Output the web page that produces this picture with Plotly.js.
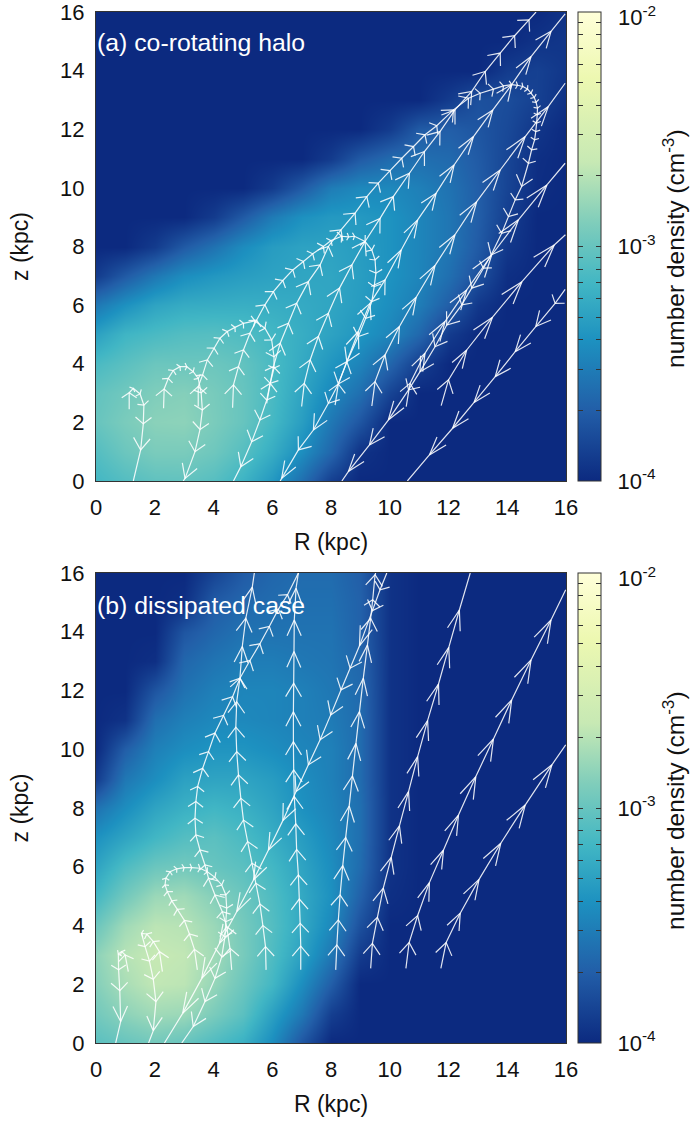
<!DOCTYPE html>
<html><head><meta charset="utf-8">
<script src="https://cdn.plot.ly/plotly-3.0.1.min.js"></script>
<style>html,body{margin:0;padding:0;background:#fff}</style></head>
<body><div id="chart" style="width:691px;height:1125px"></div>
<script>
const gridR=[0,1,2,3,4,5,6,7,8,9,10,11,12,13,14,15,16];
const gridZ=[0,1,2,3,4,5,6,7,8,9,10,11,12,13,14,15,16];
// log10 of number density, rows z=0..16, columns R=0..16
const densityA=[
[-3.15,-3.08,-3.03,-3.02,-3.07,-3.18,-3.35,-3.6,-3.88,-4,-4,-4,-4,-4,-4,-4,-4],
[-3.08,-2.98,-2.92,-2.92,-2.97,-3.07,-3.22,-3.42,-3.65,-3.95,-4,-4,-4,-4,-4,-4,-4],
[-3.0,-2.92,-2.86,-2.85,-2.92,-3.0,-3.14,-3.32,-3.55,-3.75,-4,-4,-4,-4,-4,-4,-4],
[-3.02,-2.96,-2.9,-2.88,-2.93,-3.0,-3.12,-3.28,-3.45,-3.6,-3.85,-4,-4,-4,-4,-4,-4],
[-3.12,-3.05,-2.98,-2.98,-2.98,-3.02,-3.12,-3.24,-3.37,-3.48,-3.66,-3.88,-4,-4,-4,-4,-4],
[-3.3,-3.17,-3.12,-3.08,-3.07,-3.1,-3.15,-3.22,-3.29,-3.37,-3.47,-3.64,-3.9,-4,-4,-4,-4],
[-3.55,-3.4,-3.28,-3.23,-3.22,-3.21,-3.22,-3.24,-3.27,-3.33,-3.42,-3.52,-3.7,-3.92,-4,-4,-4],
[-3.9,-3.72,-3.55,-3.42,-3.36,-3.32,-3.29,-3.27,-3.27,-3.32,-3.39,-3.47,-3.6,-3.78,-3.97,-4,-4],
[-4,-4,-3.9,-3.72,-3.58,-3.43,-3.33,-3.29,-3.29,-3.33,-3.39,-3.47,-3.56,-3.72,-3.92,-4,-4],
[-4,-4,-4,-4,-3.9,-3.72,-3.53,-3.4,-3.35,-3.35,-3.39,-3.47,-3.56,-3.7,-3.88,-4,-4],
[-4,-4,-4,-4,-4,-4,-3.9,-3.72,-3.52,-3.45,-3.45,-3.5,-3.58,-3.7,-3.85,-3.98,-4],
[-4,-4,-4,-4,-4,-4,-4,-4,-3.9,-3.72,-3.62,-3.6,-3.63,-3.72,-3.84,-3.97,-4],
[-4,-4,-4,-4,-4,-4,-4,-4,-4,-4,-3.9,-3.72,-3.7,-3.75,-3.82,-3.93,-4],
[-4,-4,-4,-4,-4,-4,-4,-4,-4,-4,-4,-4,-3.9,-3.78,-3.8,-3.87,-3.96],
[-4,-4,-4,-4,-4,-4,-4,-4,-4,-4,-4,-4,-4,-4,-3.9,-3.87,-3.93],
[-4,-4,-4,-4,-4,-4,-4,-4,-4,-4,-4,-4,-4,-4,-4,-3.95,-3.93],
[-4,-4,-4,-4,-4,-4,-4,-4,-4,-4,-4,-4,-4,-4,-4,-4,-3.95]];
const densityB=[
[-3.05,-3.0,-2.95,-3.0,-3.1,-3.2,-3.42,-3.75,-4,-4,-4,-4,-4,-4,-4,-4,-4],
[-2.95,-2.85,-2.78,-2.8,-2.92,-3.05,-3.3,-3.55,-3.88,-4,-4,-4,-4,-4,-4,-4,-4],
[-2.88,-2.75,-2.66,-2.68,-2.82,-2.98,-3.15,-3.42,-3.7,-4,-4,-4,-4,-4,-4,-4,-4],
[-2.85,-2.7,-2.64,-2.66,-2.78,-2.93,-3.1,-3.3,-3.55,-3.9,-4,-4,-4,-4,-4,-4,-4],
[-2.98,-2.78,-2.68,-2.7,-2.8,-2.94,-3.08,-3.25,-3.45,-3.78,-4,-4,-4,-4,-4,-4,-4],
[-3.15,-2.95,-2.8,-2.78,-2.88,-2.98,-3.1,-3.25,-3.4,-3.68,-3.97,-4,-4,-4,-4,-4,-4],
[-3.28,-3.1,-2.98,-2.95,-3.0,-3.05,-3.15,-3.28,-3.42,-3.62,-3.95,-4,-4,-4,-4,-4,-4],
[-3.4,-3.28,-3.16,-3.08,-3.05,-3.12,-3.22,-3.33,-3.45,-3.6,-3.95,-4,-4,-4,-4,-4,-4],
[-3.58,-3.42,-3.28,-3.2,-3.16,-3.2,-3.28,-3.4,-3.48,-3.6,-3.95,-4,-4,-4,-4,-4,-4],
[-3.9,-3.55,-3.42,-3.3,-3.28,-3.28,-3.33,-3.42,-3.5,-3.62,-3.95,-4,-4,-4,-4,-4,-4],
[-4,-3.7,-3.5,-3.42,-3.38,-3.38,-3.42,-3.47,-3.5,-3.62,-3.95,-4,-4,-4,-4,-4,-4],
[-4,-3.95,-3.6,-3.5,-3.45,-3.45,-3.47,-3.5,-3.53,-3.62,-3.95,-4,-4,-4,-4,-4,-4],
[-4,-4,-3.75,-3.58,-3.5,-3.47,-3.47,-3.5,-3.55,-3.63,-3.95,-4,-4,-4,-4,-4,-4],
[-4,-4,-3.97,-3.65,-3.57,-3.52,-3.52,-3.55,-3.57,-3.65,-3.95,-4,-4,-4,-4,-4,-4],
[-4,-4,-4,-3.75,-3.65,-3.58,-3.58,-3.58,-3.58,-3.68,-3.95,-4,-4,-4,-4,-4,-4],
[-4,-4,-4,-3.97,-3.72,-3.65,-3.62,-3.6,-3.6,-3.68,-3.95,-4,-4,-4,-4,-4,-4],
[-4,-4,-4,-4,-3.85,-3.72,-3.65,-3.62,-3.62,-3.7,-3.95,-4,-4,-4,-4,-4,-4]];

// Panel (a) flow lines
const a1R=[1.13,1.13,1.27,1.5,1.63,1.61,1.52,1.27];
const a1z=[2.45,3.01,3.16,2.97,2.59,1.95,1.06,0];
const a2R=[2.3,2.32,2.46,2.63,2.86,3.09,3.31,3.48,3.58,3.62,3.54,3.37,3.03,2.97];
const a2z=[2.48,3.14,3.5,3.77,3.9,3.9,3.73,3.5,3.01,2.42,1.76,1,0.09,0];
const a3R=[3.48,3.48,3.63,3.79,4.02,4.22,4.47,4.73,5.02,5.41,5.75,5.98,6.06,6.06,5.93,5.81,5.58,5.3,4.93,4.68];
const a3z=[2.54,3.22,3.62,4.13,4.53,4.87,5.1,5.24,5.38,5.46,5.21,4.81,4.24,3.85,3.33,2.76,2.08,1.34,0.49,0];
const a4R=[4.65,4.68,4.85,5.02,5.24,5.47,5.75,6.04,6.36,6.7,7.06,7.38,7.74,8.0,8.36,8.6,8.8,9.16,9.39,9.5,9.53,9.47,9.39,9.18,8.93,8.54,8.25,7.91,7.4,6.89,6.32,6.27];
const a4z=[2.5,3.28,3.9,4.47,5.04,5.49,6.01,6.46,6.84,7.2,7.49,7.75,8,8.2,8.35,8.33,8.35,8.17,7.88,7.54,7.09,6.63,6.12,5.55,4.93,4.07,3.31,2.65,1.74,1.06,0.09,0];
const a5R=[5.81,5.93,6.04,6.27,6.55,6.83,7.23,7.63,7.91,8.34,8.82,9.22,9.61,10.01,10.41,10.81,11.2,11.6,12.17,12.68,13.08,13.53,13.87,14.15,14.35,14.53,14.69,14.81,14.92,14.98,15.03,15.02,15,14.97,14.93,14.83,14.72,14.49,14.27,14.04,13.81,13.45,13.19,12.79,12.45,11.94,11.54,11.03,10.64,9.95,9.31,8.59,8.37];
const a5z=[2.65,3.33,3.9,4.7,5.38,6.06,6.8,7.37,8,8.57,9.14,9.7,10.16,10.59,11.01,11.41,11.81,12.12,12.66,13.06,13.23,13.37,13.48,13.52,13.5,13.46,13.37,13.23,13.08,12.92,12.72,12.49,12.21,11.92,11.64,11.3,10.84,10.05,9.59,9.02,8.45,7.71,7.26,6.58,6.01,5.32,4.58,3.73,3.11,2.08,1.23,0.32,0];
const a6R=[7,7.09,7.29,7.57,7.91,8.29,8.71,9.16,9.67,10.12,10.67,11.18,11.71,12.22,12.79,13.25,13.76,14.25,14.74,14.98];
const a6z=[2.54,3.33,4.13,4.93,5.72,6.58,7.37,8.17,8.96,9.7,10.5,11.24,11.92,12.66,13.29,13.97,14.6,15.19,15.73,16];
const a7R=[8.14,8.25,8.54,8.93,9.33,9.84,10.39,10.95,11.58,12.19,12.85,13.51,14.15,14.81,15.49,15.97];
const a7z=[2.59,3.31,4.07,5.1,6.06,6.86,7.88,8.91,9.82,10.78,11.75,12.66,13.52,14.48,15.34,15.94];
const a8R=[9.39,9.5,9.84,10.33,10.9,11.54,12.22,12.96,13.76,14.61,15.4,15.97];
const a8z=[2.56,3.39,4.3,5.27,6.27,7.35,8.4,9.53,10.61,11.75,12.78,13.57];
const a9R=[10.56,10.69,11.2,11.88,12.62,13.47,14.38,15.35,15.97];
const a9z=[2.54,3.33,4.36,5.44,6.52,7.71,8.91,10.1,10.84];
const a10R=[11.75,12,12.62,13.5,14.5,15.6,15.98];
const a10z=[2.57,3.45,4.47,5.59,6.8,8.05,8.4];
const a11R=[15.97,15.63,14.97,14.27,13.59,12.87,12.14,11.35,10.6];
const a11z=[6.54,6.06,5.27,4.41,3.56,2.68,1.8,0.89,0];

// Panel (b) flow lines
const b1R=[1.1,0.99,0.87,0.76,0.77,0.81,0.84,0.67];
const b1z=[2.43,3,3.11,3.03,2.49,1.78,0.73,0];
const b2R=[2.26,2.16,1.95,1.73,1.55,1.67,1.82,1.95,2.04,1.95,1.79];
const b2z=[2.43,3.11,3.45,3.71,3.73,3.28,2.79,2.17,1.41,0.42,0];
const b3R=[3.45,3.35,3.18,3.01,2.77,2.58,2.43,2.35,2.38,2.52,2.75,3,3.26,3.54,3.79,4.05,4.28,4.42,4.45,4.42,4.39,4.28,4.05,3.71,3.31,2.92];
const b3z=[2.49,3.19,3.71,4.17,4.55,4.84,5.15,5.38,5.61,5.83,5.93,5.97,5.97,5.95,5.83,5.64,5.38,5.04,4.59,4.13,3.62,2.94,2.2,1.41,0.56,0];
const b4R=[4.62,4.56,4.45,4.3,4.05,3.83,3.71,3.54,3.4,3.37,3.4,3.46,3.63,3.83,4.05,4.34,4.65,4.9,5.24,5.58,5.9,6.21,6.52,6.89];
const b4z=[2.49,3.22,3.96,4.47,5.04,5.61,6.06,6.57,7.08,7.65,8.22,8.73,9.35,9.92,10.55,11.15,11.79,12.42,13.02,13.59,14.18,14.77,15.26,16];
const b5R=[5.79,5.77,5.68,5.58,5.44,5.31,5.16,5.02,4.93,4.85,4.79,4.76,4.79,4.9,4.98,5.1,5.32,5.39];
const b5z=[2.49,3.28,4,4.73,5.44,6.12,6.86,7.59,8.33,9.13,9.92,10.75,11.62,12.42,13.5,14.46,15.52,16];
const b6R=[6.97,6.97,6.95,6.92,6.89,6.83,6.8,6.75,6.73,6.72,6.72,6.73,6.74,6.75,6.81,6.89];
const b6z=[2.49,3.3,4.07,4.9,5.72,6.59,7.46,8.39,9.3,10.26,11.28,12.25,13.33,14.4,15.48,16];
const b7R=[8.16,8.2,8.25,8.31,8.4,8.5,8.62,8.73,8.85,8.97,9.1,9.24,9.35,9.42,9.5,9.52];
const b7z=[2.49,3.34,4.19,5.04,6.04,7,8.07,9.09,10.2,11.28,12.42,13.55,14.46,15.09,15.94,16];
const b8R=[9.35,9.41,9.58,9.78,10.05,10.33,10.64,10.95,11.29,11.66,12.01,12.37,12.74];
const b8z=[2.54,3.39,4.28,5.27,6.32,7.39,8.56,9.75,10.98,12.22,13.47,14.74,16];
const b9R=[10.55,10.66,10.95,11.35,11.83,12.34,12.93,13.53,14.15,14.81,15.49,15.99];
const b9z=[2.54,3.42,4.34,5.46,6.57,7.76,9.07,10.35,11.68,13.04,14.4,15.43];
const b10R=[11.74,11.92,12.4,13.04,13.78,14.61,15.52,15.99];
const b10z=[2.54,3.42,4.42,5.57,6.8,8.1,9.47,10.15];
const b11R=[9.9,9.67,9.41,8.97,8.65,8.34,7.99,7.63,7.23,6.81,6.36,5.87,5.36,4.79,4.2,3.6,2.95,2.33];
const b11z=[16,15.43,14.72,13.52,12.76,12.02,11.17,10.32,9.47,8.56,7.57,6.57,5.55,4.47,3.39,2.2,1.01,0];

const linesA=[[a1R,a1z],[a2R,a2z],[a3R,a3z],[a4R,a4z],[a5R,a5z],[a6R,a6z],[a7R,a7z],[a8R,a8z],[a9R,a9z],[a10R,a10z],[a11R,a11z]];
const linesB=[[b1R,b1z],[b2R,b2z],[b3R,b3z],[b4R,b4z],[b5R,b5z],[b6R,b6z],[b7R,b7z],[b8R,b8z],[b9R,b9z],[b10R,b10z],[b11R,b11z]];

const axisTicks=[0,2,4,6,8,10,12,14,16];
const cbMajor=[-4,-3];
const cbMajorText=['10<sup>-4</sup>','10<sup>-3</sup>'];
const cbTopText='10<sup>-2</sup>';
const cbFactors=[2,3,4,5,6,7,8,9];
const cbDecades=[-4,-3];
const cbAllTicks=[...cbDecades.flatMap(d=>cbFactors.map(f=>d+Math.log10(f))),-3];

const colorscale=[[0,'#0c2a80'],[0.15,'#225ea8'],[0.30,'#1d91c0'],[0.42,'#41b6c4'],[0.55,'#7fcdbb'],[0.68,'#c7e9b4'],[0.86,'#edf8b1'],[1,'#ffffd9']];
const clearScale=[[0,'rgba(0,0,0,0)'],[1,'rgba(0,0,0,0)']];

const W=691,H=1125,L=96,R_=566,TOPA=12,BOTA=481,TOPB=573,BOTB=1043;
const plotW=R_-L,plotH=BOTB-TOPA;
const pxX=p=>(p-L)/plotW, pxY=p=>(BOTB-p)/plotH;
const FONT='"Liberation Sans",Arial,sans-serif';
const INK='#111';
const kpcPx=29.375;

function withArrows(Rs,zs){
  const x=[...Rs,null],y=[...zs,null];
  for(let i=1;i<Rs.length-1;i++){
    const dx=Rs[i]-Rs[i-1],dy=zs[i]-zs[i-1];
    const d=Math.hypot(dx,dy)*kpcPx;
    const len=Math.min(24,Math.max(4,0.55*d))/kpcPx;
    const ang=Math.min(65,Math.max(18,65-(d-12)*2.1))*Math.PI/180;
    const dir=Math.atan2(dy,dx)+Math.PI;
    x.push(Rs[i]+len*Math.cos(dir+ang),Rs[i],Rs[i]+len*Math.cos(dir-ang),null);
    y.push(zs[i]+len*Math.sin(dir+ang),zs[i],zs[i]+len*Math.sin(dir-ang),null);
  }
  return {x,y};
}
function lineTraces(lines,xa,ya){
  return lines.map(([r,z])=>{
    const p=withArrows(r,z);
    return {type:'scatter',mode:'lines',x:p.x,y:p.y,xaxis:xa,yaxis:ya,showlegend:false,hoverinfo:'skip',
      line:{color:'rgba(255,255,255,0.88)',width:1.2,simplify:false},connectgaps:false};
  });
}
function heat(z,xa,ya,top,bot){
  return {type:'heatmap',x:gridR,y:gridZ,z:z,xaxis:xa,yaxis:ya,zmin:-4,zmax:-2,zsmooth:'best',colorscale:colorscale,hoverinfo:'skip',
    colorbar:{x:pxX(578),xanchor:'left',xpad:0,y:pxY(bot),yanchor:'bottom',ypad:0,thickness:23,thicknessmode:'pixels',
      len:(bot-top)/plotH,lenmode:'fraction',outlinecolor:'#333',outlinewidth:1,borderwidth:0,
      tickmode:'array',tickvals:cbMajor,ticktext:cbMajorText,ticks:'outside',ticklen:12,tickcolor:'rgba(0,0,0,0)',
      ticklabelposition:'outside',ticklabeloverflow:'allow',tickfont:{family:FONT,size:22,color:INK}}};
}
// transparent companions whose colour bars only carry the tick marks over the real bar
function tickBar(z,xa,ya,top,bot,leftPx,thick){
  return {type:'heatmap',x:gridR,y:gridZ,z:z,xaxis:xa,yaxis:ya,zmin:-4,zmax:-2,colorscale:clearScale,hoverinfo:'skip',
    colorbar:{x:pxX(leftPx),xanchor:'left',xpad:0,y:pxY(bot),yanchor:'bottom',ypad:0,thickness:thick,thicknessmode:'pixels',
      len:(bot-top)/plotH,lenmode:'fraction',outlinewidth:0,borderwidth:0,bgcolor:'rgba(0,0,0,0)',
      tickmode:'array',tickvals:cbAllTicks,ticks:'outside',ticklen:5,tickwidth:1,tickcolor:'#333',showticklabels:false}};
}
function xAxis(anchor){return {domain:[0,1],range:[0,16],anchor:anchor,tickvals:axisTicks,ticks:'',showgrid:false,zeroline:false,
  showline:true,mirror:true,linecolor:'#333',linewidth:1,tickfont:{family:FONT,size:22,color:INK},ticklabelstandoff:7,ticklabeloverflow:'allow',
  title:{text:'R (kpc)',standoff:14,font:{family:FONT,size:23,color:INK}}};}
function yAxis(anchor,dom){return {domain:dom,range:[0,16],anchor:anchor,tickvals:axisTicks,ticks:'',showgrid:false,zeroline:false,
  showline:true,mirror:true,linecolor:'#333',linewidth:1,tickfont:{family:FONT,size:22,color:INK},ticklabelstandoff:6,ticklabeloverflow:'allow',
  title:{text:'z (kpc)',standoff:25,font:{family:FONT,size:23,color:INK}}};}

function label(text,top){return {text:text,xref:'paper',yref:'paper',x:pxX(95),y:pxY(top),xanchor:'left',yanchor:'middle',showarrow:false,
  font:{family:FONT,size:24.8,color:'#fff'}};}
function cbTitle(mid){return {text:'number density (cm<sup>-3</sup>)',xref:'paper',yref:'paper',x:pxX(673),y:pxY(mid),xanchor:'center',yanchor:'middle',
  textangle:-90,showarrow:false,font:{family:FONT,size:24.5,color:INK}};}
function cbTop(top){return {text:cbTopText,xref:'paper',yref:'paper',x:pxX(616),y:pxY(top),xanchor:'left',yanchor:'middle',showarrow:false,
  font:{family:FONT,size:22,color:INK}};}

const traces=[
  heat(densityA,'x','y',TOPA,BOTA),...lineTraces(linesA,'x','y'),
  tickBar(densityA,'x','y',TOPA,BOTA,577,1),tickBar(densityA,'x','y',TOPA,BOTA,578,18),
  heat(densityB,'x2','y2',TOPB,BOTB),...lineTraces(linesB,'x2','y2'),
  tickBar(densityB,'x2','y2',TOPB,BOTB,577,1),tickBar(densityB,'x2','y2',TOPB,BOTB,578,18)];
const layout={width:W,height:H,margin:{l:L,r:W-R_,t:TOPA,b:H-BOTB,autoexpand:false},paper_bgcolor:'#fff',plot_bgcolor:'#0c2a80',showlegend:false,
  xaxis:xAxis('y'),yaxis:yAxis('x',[pxY(BOTA),pxY(TOPA)]),xaxis2:xAxis('y2'),yaxis2:yAxis('x2',[pxY(BOTB),pxY(TOPB)]),
  annotations:[label('(a) co-rotating halo',43),label('(b) dissipated case',605),cbTitle(249),cbTitle(811),cbTop(16),cbTop(577)]};
Plotly.newPlot('chart',traces,layout,{displayModeBar:false,staticPlot:true}).then(()=>{
  document.querySelectorAll('#chart text').forEach(t=>{const b=t.getBBox();if(!b.width||!b.height)t.remove();});
});
</script></body></html>
